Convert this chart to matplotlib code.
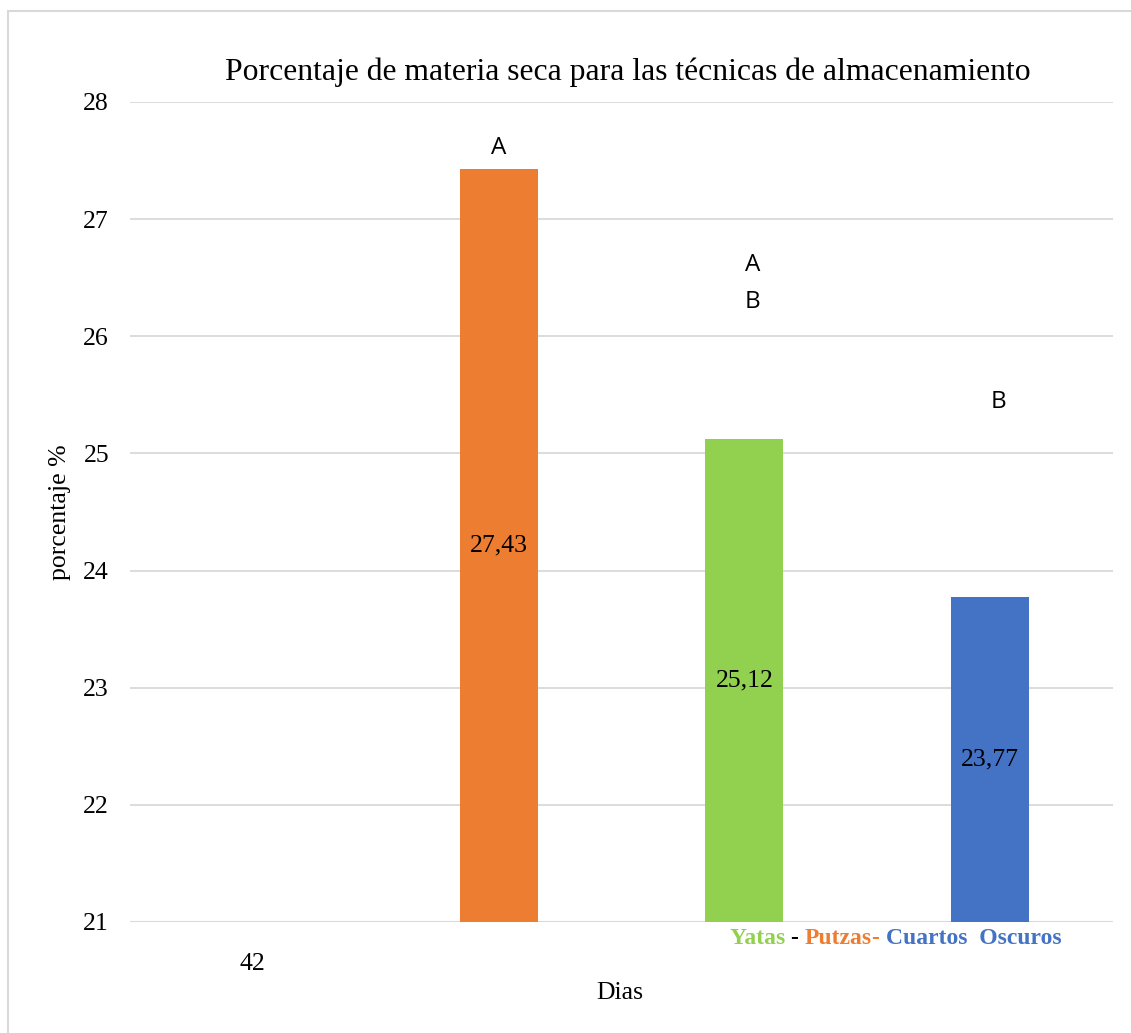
import numpy as np
import matplotlib
matplotlib.use("Agg")
import matplotlib.pyplot as plt
from matplotlib.patches import Rectangle

# datos: materia seca (%) a los 42 dias
series = ["Yatas", "Putzas", "Cuartos Oscuros"]
values = [27.43, 25.12, 23.77]
value_labels = ["27,43", "25,12", "23,77"]
bar_pos = [1, 2, 3]
bar_colors = ["#ED7D31", "#92D050", "#4472C4"]
letters = [["A"], ["A", "B"], ["B"]]
letter_y = [[27.61], [26.61, 26.29], [25.44]]
legend_colors = ["#92D050", "#ED7D31", "#4472C4"]
dias = ["42"]

serif = "Liberation Serif"
sans = "Open Sans"

fig = plt.figure(figsize=(11.31, 10.33), dpi=100)
ax = fig.add_axes([0.1149, 0.1075, 0.8692, 0.7938])

# marco del grafico
fig.patches.append(Rectangle((8 / 1131, -0.01), 1.2, 1 - 11 / 1033 + 0.01,
                             transform=fig.transFigure, fill=False,
                             edgecolor="#d9d9d9", linewidth=1.5))

ax.bar(bar_pos, np.array(values) - 21, bottom=21, width=0.317, color=bar_colors, zorder=3)

for x, v, lab in zip(bar_pos, values, value_labels):
    ax.text(x, (21 + v) / 2, lab, ha="center", va="center",
            fontsize=18.5, family=serif, color="black", zorder=4)

for x, ls, ys in zip(bar_pos, letters, letter_y):
    off = 0 if x == 1 else 0.035
    for l, y in zip(ls, ys):
        ax.text(x + off, y, l, ha="center", va="center", fontsize=17.5,
                family=sans, color="black")

ax.set_xlim(-0.5, 3.5)
ax.set_ylim(21, 28)
ax.set_yticks(range(21, 29))
ax.set_xticks([0])
ax.set_xticklabels(dias)
ax.tick_params(length=0, labelsize=18.5)
ax.tick_params(axis="y", pad=15)
ax.tick_params(axis="x", pad=22)
for lbl in ax.get_xticklabels() + ax.get_yticklabels():
    lbl.set_family(serif)
ax.grid(axis="y", color="#d9d9d9", linewidth=1.3, zorder=0)
for s in ax.spines.values():
    s.set_visible(False)
ax.axhline(21, color="#d9d9d9", linewidth=1.5, zorder=2)

ax.set_ylabel("porcentaje %", fontsize=18.5, family=serif, labelpad=9)
fig.text(0.548, 1 - 993 / 1033, "Dias", ha="center", va="center",
         fontsize=18.5, family=serif)
fig.text(0.555, 1 - 72 / 1033, "Porcentaje de materia seca para las técnicas de almacenamiento",
         ha="center", va="center", fontsize=22.8, family=serif)

# leyenda coloreada bajo las barras
pieces = [("Yatas ", legend_colors[0]), ("- ", "black"), ("Putzas", legend_colors[1]),
          ("- ", legend_colors[1]), ("Cuartos  Oscuros", legend_colors[2])]
renderer = fig.canvas.get_renderer()
x0 = 730 / 1131
y0 = 1 - 939 / 1033
for txt, col in pieces:
    t = fig.text(x0, y0, txt, ha="left", va="center", fontsize=17,
                 fontweight="bold", family=serif, color=col)
    bb = t.get_window_extent(renderer=renderer)
    x0 += bb.width / fig.bbox.width

fig.savefig("out.png", dpi=100)
